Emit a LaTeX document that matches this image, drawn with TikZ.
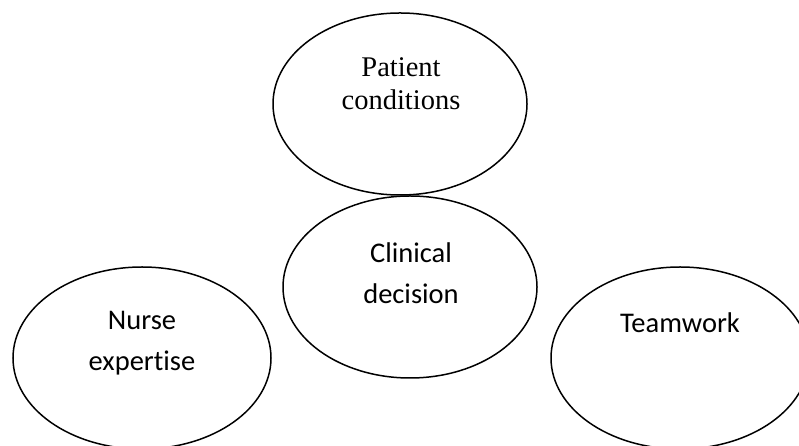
\documentclass[tikz,border=0pt]{standalone}
\usepackage{fontspec}
\setmainfont{Carlito}[Ligatures={NoCommon,NoContextual}]
\newfontfamily\timesfont{Liberation Serif}
\usetikzlibrary{shapes.geometric}
\begin{document}
\begin{tikzpicture}[x=1pt,y=1pt,
  blob/.style={draw=black,line width=1.5pt,ellipse,inner sep=0pt,minimum width=254pt,minimum height=182pt},
  sanslabel/.style={align=center,inner sep=0pt,font=\fontsize{28.5}{41}\selectfont},
  seriflabel/.style={align=center,inner sep=0pt,font=\timesfont\fontsize{28.5}{33}\selectfont}]
\useasboundingbox (0,0) rectangle (799,446);
\clip (0,0) rectangle (799,446);
\node[blob] (pat) at (400,342) {};
\node[blob] (cli) at (410,159) {};
\node[blob,minimum width=258pt] (nur) at (142,88) {};
\node[blob,minimum width=258pt] (team) at (680,88) {};
\node[seriflabel] (tpat) at (401,362) {Patient\\conditions};
\node[sanslabel] (tcli) at (411,173) {Clinical\\decision};
\node[sanslabel] (tnur) at (142,103) {Nurse\\expertise};
\node[sanslabel] (tteam) at (680,123) {Teamwork};
\end{tikzpicture}
\end{document}
